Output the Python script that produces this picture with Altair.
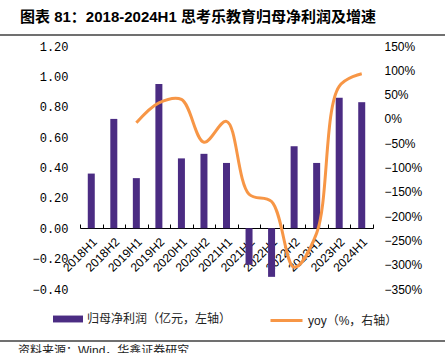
import altair as alt
import pandas as pd

periods = ["2018H1", "2018H2", "2019H1", "2019H2", "2020H1", "2020H2", "2021H1",
           "2021H2", "2022H1", "2022H2", "2023H1", "2023H2", "2024H1"]
profit = [0.36, 0.72, 0.33, 0.95, 0.46, 0.49, 0.43, -0.24, -0.32, 0.54, 0.43, 0.86, 0.83]
yoy = [None, None, -8, 33, 40, -48, -5, -155, -170, -305, -235, 67, 93]
left_ticks = [1.2, 1.0, 0.8, 0.6, 0.4, 0.2, 0.0, -0.2, -0.4]
right_ticks = [150, 100, 50, 0, -50, -100, -150, -200, -250, -300, -350]

series_bar = "归母净利润（亿元，左轴）"
series_line = "yoy（%，右轴）"
title_text = "图表 81：2018-2024H1 思考乐教育归母净利润及增速"
source_text = "资料来源：Wind，华鑫证券研究"

PURPLE = "#4B2C83"
ORANGE = "#F79646"
CJK = "Noto Sans CJK SC"
MIXED = "Liberation Sans, Noto Sans CJK SC"

df = pd.DataFrame({"period": periods, "profit": profit, "yoy": yoy,
                   "s_bar": series_bar, "s_line": series_line})

xsc = alt.Scale(domain=periods, paddingInner=0, paddingOuter=0)
base = alt.Chart(df)

bars = base.mark_bar(size=7, color=PURPLE).encode(
    x=alt.X("period:N", scale=xsc,
            axis=alt.Axis(orient="bottom", offset=-61, title=None, labelAngle=-45,
                          ticks=False, domain=False, labelPadding=8,
                          labelFont="Liberation Sans", labelFontSize=12,
                          labelColor="#000")),
    y=alt.Y("profit:Q", scale=alt.Scale(domain=[-0.4, 1.2], nice=False, zero=False),
            axis=alt.Axis(orient="left", values=left_ticks, format=".2f", title=None,
                          domain=False, ticks=False, grid=False, labelPadding=12,
                          labelFont="Liberation Mono", labelFontSize=12,
                          labelColor="#000")),
    fill=alt.Fill("s_bar:N", scale=alt.Scale(domain=[series_bar], range=[PURPLE]),
                  legend=alt.Legend(orient="none", legendX=-27, legendY=258, title=None,
                                    symbolType="M-1,-0.23H1V0.23H-1Z", symbolSize=900,
                                    symbolStrokeWidth=0, labelFont=CJK,
                                    labelFontSize=12, labelColor="#222")),
)

line = base.transform_filter("isValid(datum.yoy)").mark_line(
    interpolate="catmull-rom", strokeWidth=3, color=ORANGE
).encode(
    x=alt.X("period:N", scale=xsc,
            axis=alt.Axis(orient="top", offset=-182, labels=False, title=None,
                          domain=True, domainColor="#000", domainWidth=1,
                          ticks=True, tickBand="extent", tickSize=4,
                          tickColor="#000")),
    y=alt.Y("yoy:Q", scale=alt.Scale(domain=[-350, 150], nice=False, zero=False),
            axis=alt.Axis(orient="right", values=right_ticks,
                          labelExpr="format(datum.value, '.0f') + '%'", title=None,
                          domain=False, ticks=False, grid=False, labelPadding=11,
                          labelFont="Liberation Sans", labelFontSize=12,
                          labelColor="#000")),
    stroke=alt.Stroke("s_line:N", scale=alt.Scale(domain=[series_line], range=[ORANGE]),
                      legend=alt.Legend(orient="none", legendX=189, legendY=257, title=None,
                                        symbolType="stroke", symbolSize=1024,
                                        symbolStrokeWidth=3, labelFont=MIXED,
                                        labelFontSize=12, labelColor="#222")),
)

sep = pd.DataFrame({"k": [0]})
top_rule = alt.Chart(sep).mark_rule(stroke="#707070", strokeWidth=2).encode(
    x=alt.value(-80), x2=alt.value(365), y=alt.value(-11))
bottom_rule = alt.Chart(sep).mark_rule(stroke="#707070", strokeWidth=2).encode(
    x=alt.value(-80), x2=alt.value(365), y=alt.value(295))
title_mark = alt.Chart(sep).mark_text(align="left", baseline="alphabetic", fontSize=15,
                                      fontWeight="bold", font=MIXED, color="#000").encode(
    x=alt.value(-60), y=alt.value(-24), text=alt.value(title_text))
source = alt.Chart(sep).mark_text(align="left", baseline="alphabetic", fontSize=12,
                                  font=MIXED, color="#222").encode(
    x=alt.value(-62), y=alt.value(309), text=alt.value(source_text))

chart = alt.layer(bars, line, top_rule, bottom_rule, title_mark, source).resolve_scale(
    y="independent", fill="independent", stroke="independent"
).resolve_axis(x="independent", y="independent").properties(
    width=293, height=243,
    autosize=alt.AutoSizeParams(type="none"),
    padding={"left": 80, "top": 46, "right": 72, "bottom": 64},
    background="white",
).configure_view(stroke=None)

chart.save("out.html", embed_options={"renderer": "svg", "actions": False})
